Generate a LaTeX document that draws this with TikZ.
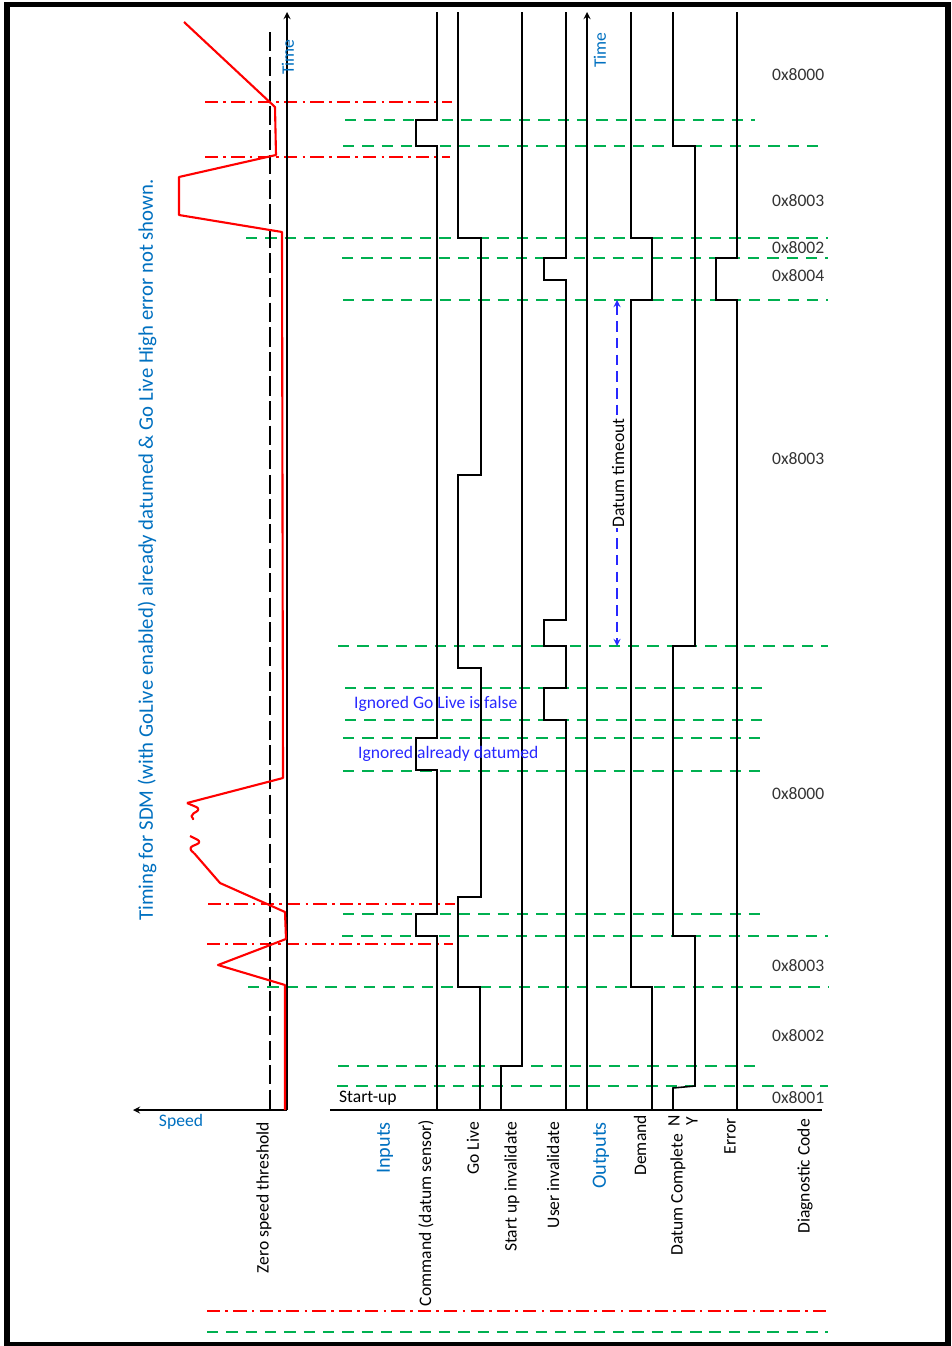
\documentclass[tikz,border=0pt]{standalone}
\usepackage{fontspec}
\setmainfont{Carlito}
\usetikzlibrary{arrows.meta, positioning}
\definecolor{axisblue}{RGB}{0,112,192}
\definecolor{noteblue}{RGB}{40,40,255}
\definecolor{limgreen}{RGB}{0,176,80}
\definecolor{limred}{RGB}{255,0,0}

\begin{document}
\begin{tikzpicture}[
        x=0.02cm, y=-0.02cm,
        every node/.style={font=\fontsize{10}{12}\selectfont, inner sep=1pt},
        sig/.style={line width=0.9pt},
        grline/.style={limgreen, line width=0.9pt, dash pattern=on 6.5pt off 4.5pt},
        rdline/.style={limred, line width=0.9pt, dash pattern=on 7.5pt off 3pt on 1.5pt off 3pt},
        speedline/.style={limred, line width=1.2pt, line join=round},
        collabel/.style={rotate=90, anchor=east},
        diagcode/.style={anchor=west, text=black!80},
        note/.style={anchor=west, text=noteblue}
        ]
        \useasboundingbox (0,0) rectangle (951,1346);
        \draw[line width=3.2pt] (7,4.5) rectangle (948,1345);

        % red limits (speed threshold crossings)
        \draw[rdline] (205,102) -- (452,102);
        \draw[rdline] (205,157) -- (450,157);
        \draw[rdline] (208,904) -- (455,904);
        \draw[rdline] (207,944) -- (453,944);
        \draw[rdline] (207,1311) -- (828,1311);

        % green events
        \draw[grline] (345,120) -- (755,120);
        \draw[grline] (343,146) -- (820,146);
        \draw[grline] (246,238) -- (828,238);
        \draw[grline] (342,258) -- (828,258);
        \draw[grline] (343,300) -- (828,300);
        \draw[grline] (338,646) -- (828,646);
        \draw[grline] (345,688) -- (765,688);
        \draw[grline] (345,720) -- (765,720);
        \draw[grline] (343,738) -- (763,738);
        \draw[grline] (343,771) -- (763,771);
        \draw[grline] (343,914) -- (762,914);
        \draw[grline] (342,936) -- (828,936);
        \draw[grline] (248,987) -- (828,987);
        \draw[grline] (338,1066) -- (762,1066);
        \draw[grline] (337,1086) -- (828,1086);
        \draw[grline] (207,1332) -- (828,1332);

        % speed side
        \coordinate (t1b) at (287,1110);
        \coordinate (t1t) at (287,12);
        \coordinate (s1) at (133,1110);
        \draw[->, >=stealth, thick] (t1b) -- (t1t);
        \draw[->, >=stealth, thick] (t1b) -- (s1);
        \node[text=axisblue, rotate=90] (time1) at (288,57) {Time};
        \node[text=axisblue] (speed) at (181,1122) {Speed};
        \draw[line width=0.9pt, dash pattern=on 11pt off 3pt] (270,32) -- (270,1110);

        \draw[speedline] (184,22) -- (275,107) -- (276,155) -- (179,177) -- (179,215)
            -- (282,232) -- (283,778) -- (187,803);
        \draw[speedline, rounded corners=3pt] (187,803) -- (201,809) -- (189,816) -- (193,819);
        \draw[speedline, rounded corners=3pt] (190,836) -- (202,842) -- (188,848) -- (194,853);
        \draw[speedline] (194,853) -- (220,883)
            -- (285,912) -- (286,939) -- (218,965) -- (285,985) -- (285,1110);

        \node[text=axisblue, rotate=90, font=\fontsize{11.8}{13}\selectfont] (title) at (147,550)
            {Timing for SDM (with GoLive enabled) already datumed \& Go Live High error not shown.};

        % inputs
        \coordinate (base0) at (330,1110);
        \coordinate (base1) at (822,1110);
        \draw[sig] (base0) -- (base1);
        \draw[sig] (437,12) -- (437,120) -- (416,120) -- (416,146) -- (437,146) -- (437,738)
            -- (416,738) -- (416,770) -- (437,770) -- (437,914) -- (416,914) -- (416,936)
            -- (437,936) -- (437,1110);
        \draw[sig] (458,12) -- (458,238) -- (481,238) -- (481,475) -- (458,475) -- (458,668)
            -- (481,668) -- (481,897) -- (458,897) -- (458,987) -- (480,987) -- (480,1110);
        \draw[sig] (522,12) -- (522,1066) -- (501,1066) -- (501,1110);
        \draw[sig] (566,12) -- (566,258) -- (544,258) -- (544,280) -- (566,280) -- (566,620)
            -- (544,620) -- (544,646) -- (566,646) -- (566,688) -- (544,688) -- (544,720)
            -- (566,720) -- (566,1110);

        % outputs
        \coordinate (t2b) at (587,1110);
        \coordinate (t2t) at (587,12);
        \draw[->, >=stealth, thick] (t2b) -- (t2t);
        \node[text=axisblue, rotate=90] (time2) at (600,50) {Time};
        \draw[sig] (631,12) -- (631,238) -- (652,238) -- (652,300) -- (631,300) -- (631,987)
            -- (652,987) -- (652,1110);
        \draw[sig] (673,12) -- (673,146) -- (695,146) -- (695,646) -- (673,646) -- (673,936)
            -- (695,936) -- (695,1086) -- (673,1088) -- (673,1110);
        \draw[sig] (737,12) -- (737,258) -- (716,258) -- (716,300) -- (737,300) -- (737,1110);

        \coordinate (dt1) at (617,300);
        \coordinate (dt2) at (617,646);
        \draw[<->, >=stealth, noteblue, thick, dash pattern=on 6pt off 3.5pt] (dt1) -- (dt2);
        \node[rotate=90, fill=white, inner sep=0.5pt] (timeout) at (618,473) {Datum timeout};

        \node[note] (golivefalse) at (352,704) {Ignored Go Live is false};
        \node[note] (datumed) at (356,754) {Ignored already datumed};
        \node[anchor=west] (startup) at (337,1098) {Start-up};

        % diagnostic codes
        \node[diagcode] (dc1) at (770,75) {0x8000};
        \node[diagcode] (dc2) at (770,201) {0x8003};
        \node[diagcode] (dc3) at (770,248) {0x8002};
        \node[diagcode] (dc4) at (770,276) {0x8004};
        \node[diagcode] (dc5) at (770,459) {0x8003};
        \node[diagcode] (dc6) at (770,794) {0x8000};
        \node[diagcode] (dc7) at (770,966) {0x8003};
        \node[diagcode] (dc8) at (770,1036) {0x8002};
        \node[diagcode] (dc9) at (770,1098) {0x8001};

        % column labels
        \node[collabel] (zero) at (264,1120) {Zero speed threshold};
        \node[collabel, text=axisblue, font=\fontsize{11.5}{13}\selectfont] (inputs) at (385,1120) {Inputs};
        \node[collabel] (command) at (426,1118) {Command (datum sensor)};
        \node[collabel] (golive) at (473,1120) {Go Live};
        \node[collabel] (startinv) at (512,1120) {Start up invalidate};
        \node[collabel] (userinv) at (553,1120) {User invalidate};
        \node[collabel, text=axisblue, font=\fontsize{11.5}{13}\selectfont] (outputs) at (601,1120) {Outputs};
        \node[collabel] (demand) at (640,1113) {Demand};
        \node[collabel] (complete) at (678,1132) {Datum Complete};
        \node[rotate=90] (nlbl) at (674,1121) {N};
        \node[rotate=90] (ylbl) at (692,1121) {Y};
        \node[collabel] (error) at (730,1116) {Error};
        \node[collabel] (diag) at (805,1117) {Diagnostic Code};
    \end{tikzpicture}
\end{document}
